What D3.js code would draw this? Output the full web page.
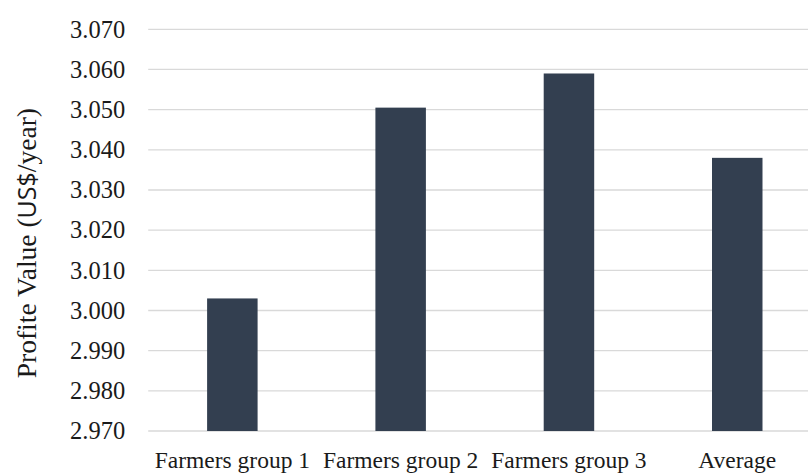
<!DOCTYPE html>
<html>
<head>
<meta charset="utf-8">
<script src="https://cdn.jsdelivr.net/npm/d3@7"></script>
<style>
  html, body { margin: 0; padding: 0; background: #ffffff; }
  svg { display: block; }
</style>
</head>
<body>
<svg id="chart" width="808" height="473"></svg>
<script>
// Profit per farmer group, US$/year
const categories = ["Farmers group 1", "Farmers group 2", "Farmers group 3", "Average"];
const profitValues = [3.003, 3.0505, 3.059, 3.038];
const yTicks = [2.970, 2.980, 2.990, 3.000, 3.010, 3.020, 3.030, 3.040, 3.050, 3.060, 3.070];

const svg = d3.select("#chart");
const serif = "'Liberation Serif', 'Times New Roman', serif";

const plotLeft = 148.2, plotRight = 821.4, gridRight = 808;
const plotTop = 29.3, plotBottom = 431;

const x = d3.scaleBand()
  .domain(categories)
  .range([plotLeft, plotRight])
  .paddingInner(0.7)
  .paddingOuter(0.35);

const y = d3.scaleLinear()
  .domain([2.97, 3.07])
  .range([plotBottom, plotTop]);

// horizontal gridlines
svg.append("g")
  .selectAll("line")
  .data(yTicks)
  .join("line")
  .attr("x1", plotLeft)
  .attr("x2", gridRight)
  .attr("y1", d => y(d))
  .attr("y2", d => y(d))
  .attr("stroke", "#d9d9d9")
  .attr("stroke-width", 1.3);

// y tick labels
const yAxis = d3.axisLeft(y)
  .tickValues(yTicks)
  .tickFormat(d3.format(".3f"))
  .tickSize(0)
  .tickPadding(23);

const gy = svg.append("g")
  .attr("transform", `translate(${plotLeft},0)`)
  .call(yAxis);
gy.attr("font-family", null).attr("font-size", null);
gy.select(".domain").remove();
gy.selectAll("text")
  .style("font-family", serif)
  .style("font-size", "24.5px")
  .attr("fill", "#1a1a1a");

// bars
svg.append("g")
  .selectAll("rect")
  .data(categories.map((c, i) => ({ c, v: profitValues[i] })))
  .join("rect")
  .attr("x", d => x(d.c))
  .attr("width", x.bandwidth())
  .attr("y", d => y(d.v))
  .attr("height", d => y(2.97) - y(d.v))
  .attr("fill", "#333f50");

// x category labels
const xAxis = d3.axisBottom(x).tickSize(0).tickPadding(0);
const gx = svg.append("g")
  .attr("transform", `translate(0,${plotBottom})`)
  .call(xAxis);
gx.attr("font-family", null).attr("font-size", null);
gx.select(".domain").remove();
gx.selectAll("text")
  .attr("dy", null)
  .attr("y", 37)
  .style("font-family", serif)
  .style("font-size", "23.5px")
  .attr("fill", "#1a1a1a");

// y axis title
const title = svg.append("text")
  .attr("transform", `translate(36,${(plotTop + plotBottom) / 2 + 13}) rotate(-90)`)
  .attr("text-anchor", "middle")
  .style("font-family", serif)
  .style("font-size", "27.5px")
  .attr("fill", "#1a1a1a");
title.append("tspan").text("Profite Value (");
title.append("tspan")
  .style("font-family", "'Open Sans', 'Liberation Sans', sans-serif")
  .style("font-size", "25px")
  .text("US$");
title.append("tspan").text("/year)");
</script>
</body>
</html>
